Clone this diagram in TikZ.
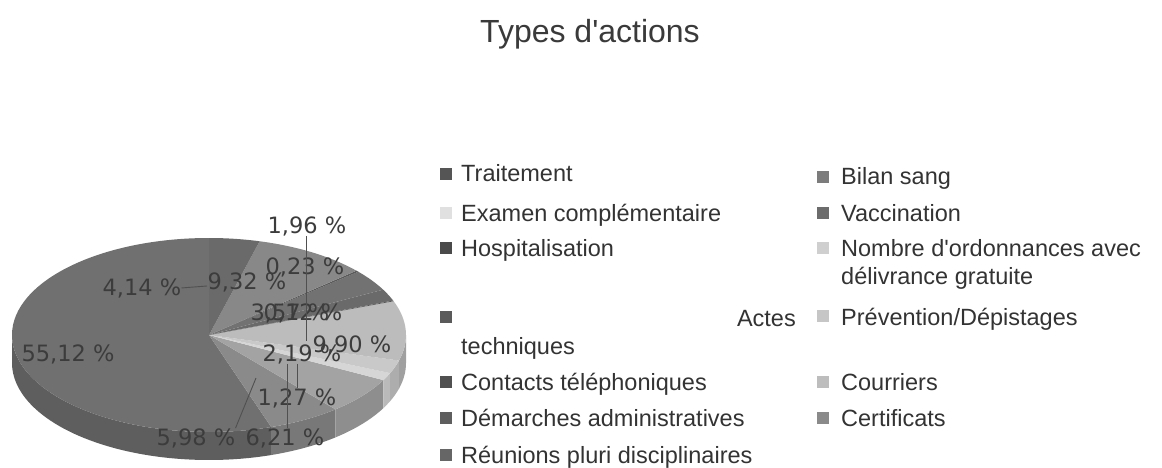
\documentclass[tikz,border=0pt]{standalone}
\usepackage{fontspec}
\setmainfont{Liberation Sans}[Ligatures=TeXOff]
\newfontfamily\lblfont{DejaVu Sans}
\definecolor{labelgray}{HTML}{3C3C3C}
\definecolor{leggray}{HTML}{333333}
\definecolor{titlegray}{HTML}{3A3A3A}
\definecolor{linegray}{HTML}{505050}
% slice tops / walls
\definecolor{sBig}{HTML}{707070}\definecolor{wBig}{HTML}{5E5E5E}
\definecolor{sA}{HTML}{8A8A8A}\definecolor{wA}{HTML}{787878}
\definecolor{sB}{HTML}{A3A3A3}\definecolor{wB}{HTML}{8E8E8E}
\definecolor{sC}{HTML}{D6D6D6}\definecolor{wC}{HTML}{BABABA}
\definecolor{sD}{HTML}{C9C9C9}\definecolor{wD}{HTML}{ADADAD}
\definecolor{sE}{HTML}{BCBCBC}\definecolor{wE}{HTML}{A0A0A0}
\definecolor{sF}{HTML}{555555}
\definecolor{sG}{HTML}{6A6A6A}
\definecolor{sH}{HTML}{727272}
\definecolor{sI}{HTML}{5A5A5A}
\definecolor{sJ}{HTML}{888888}
\definecolor{sK}{HTML}{6A6A6A}
% legend squares
\definecolor{q1}{HTML}{555555}\definecolor{q2}{HTML}{E0E0E0}\definecolor{q3}{HTML}{4A4A4A}
\definecolor{q4}{HTML}{5A5A5A}\definecolor{q5}{HTML}{505050}\definecolor{q6}{HTML}{5E5E5E}
\definecolor{q7}{HTML}{666666}\definecolor{q8}{HTML}{7C7C7C}\definecolor{q9}{HTML}{6C6C6C}
\definecolor{q10}{HTML}{CFCFCF}\definecolor{q11}{HTML}{C6C6C6}\definecolor{q12}{HTML}{BDBDBD}
\definecolor{q13}{HTML}{8A8A8A}
\newcommand\myslice[3]{\fill[#3] (C) -- ++(#1:197pt and 97pt) arc[start angle=#1,end angle=#2,x radius=197pt,y radius=97pt] -- cycle;}
\newcommand\mywall[3]{\fill[#3] (C) ++(#1:197pt and 97pt) arc[start angle=#1,end angle=#2,x radius=197pt,y radius=97pt] -- ++(0,28) arc[start angle=#2,end angle=#1,x radius=197pt,y radius=97pt] -- cycle;}
\begin{document}
\begin{tikzpicture}[x=1pt,y=-1pt,
  lbl/.style={font=\lblfont\fontsize{22.5}{26}\selectfont, text=labelgray, inner sep=0pt, anchor=base},
  leg/.style={font=\fontsize{23.5}{28}\selectfont, text=leggray, inner sep=0pt, anchor=base west},
  legsq/.style={minimum size=12pt, inner sep=0pt, draw=none},
  leader/.style={draw=linegray, line width=0.9pt}]
\useasboundingbox[fill=white] (0,0) rectangle (1162,468);
\coordinate (C) at (209,335);
% side walls
\mywall{180}{288.40}{wBig}
\mywall{288.40}{309.93}{wA}
\mywall{309.93}{332.29}{wB}
\mywall{332.29}{336.86}{wC}
\mywall{336.86}{344.74}{wD}
\mywall{344.74}{360}{wE}
% top faces
\myslice{90}{288.40}{sBig}
\myslice{288.40}{309.93}{sA}
\myslice{309.93}{332.29}{sB}
\myslice{332.29}{336.86}{sC}
\myslice{336.86}{344.74}{sD}
\myslice{344.74}{380.38}{sE}
\myslice{380.38}{380.81}{sF}
\myslice{380.81}{387.87}{sG}
\myslice{387.87}{400.72}{sH}
\myslice{400.72}{401.55}{sI}
\myslice{401.55}{435.10}{sJ}
\myslice{435.10}{450.00}{sK}
% title
\node[font=\fontsize{32}{38}\selectfont, text=titlegray, anchor=base, inner sep=0pt] (title) at (590,43) {Types d'actions};
% pie labels
\node[lbl] (l5512) at (68,361) {55,12 \%};
\node[lbl] (l414) at (142,295) {4,14 \%};
\node[lbl] (l932) at (247,289) {9,32 \%};
\node[lbl] (l196) at (307,233) {1,96 \%};
\node[lbl] (l023) at (305,274) {0,23 \%};
\node[lbl] (l357) at (290,320) {3,57 \%};
\node[lbl] (l012) at (303,320) {0,12 \%};
\node[lbl] (l990) at (352,352) {9,90 \%};
\node[lbl] (l219) at (302,361) {2,19 \%};
\node[lbl] (l127) at (297,405) {1,27 \%};
\node[lbl] (l621) at (285,445) {6,21 \%};
\node[lbl] (l598) at (196,445) {5,98 \%};
% leader lines
\coordinate (c196) at (306,341);
\coordinate (c414) at (207,286);
\coordinate (x287) at (287,0);
\coordinate (x297) at (297,0);
\coordinate (c598) at (256,378);
\draw[leader] (l196.south -| c196) -- (c196);
\draw[leader] (l414.east) -- (c414);
\draw[leader] (l219.south -| x287) -- (l621.north -| x287);
\draw[leader] (l219.south -| x297) -- (l127.north -| x297);
\draw[leader] (l598.north east) -- (c598);
% legend, left column
\node[legsq, fill=q1] (s1) at (446,174) {};
\node[leg] (t1) at (461,182) {Traitement};
\node[legsq, fill=q2] (s2) at (446,213) {};
\node[leg] (t2) at (461,221) {Examen complémentaire};
\node[legsq, fill=q3] (s3) at (446,248) {};
\node[leg] (t3) at (461,256) {Hospitalisation};
\node[legsq, fill=q4] (s4) at (446,317) {};
\node[leg, anchor=base east] (t4a) at (796,326) {Actes};
\node[leg] (t4b) at (461,354) {techniques};
\node[legsq, fill=q5] (s5) at (446,382) {};
\node[leg] (t5) at (461,390) {Contacts téléphoniques};
\node[legsq, fill=q6] (s6) at (446,418) {};
\node[leg] (t6) at (461,426) {Démarches administratives};
\node[legsq, fill=q7] (s7) at (446,455) {};
\node[leg] (t7) at (461,463) {Réunions pluri disciplinaires};
% legend, right column
\node[legsq, fill=q8] (s8) at (823,177) {};
\node[leg] (t8) at (841,185) {Bilan sang};
\node[legsq, fill=q9] (s9) at (823,213) {};
\node[leg] (t9) at (841,221) {Vaccination};
\node[legsq, fill=q10] (s10) at (823,248) {};
\node[leg] (t10a) at (841,256) {Nombre d'ordonnances avec};
\node[leg] (t10b) at (841,284) {délivrance gratuite};
\node[legsq, fill=q11] (s11) at (823,316) {};
\node[leg] (t11) at (841,325) {Prévention/Dépistages};
\node[legsq, fill=q12] (s12) at (823,382) {};
\node[leg] (t12) at (841,390) {Courriers};
\node[legsq, fill=q13] (s13) at (823,418) {};
\node[leg] (t13) at (841,426) {Certificats};
\end{tikzpicture}
\end{document}
